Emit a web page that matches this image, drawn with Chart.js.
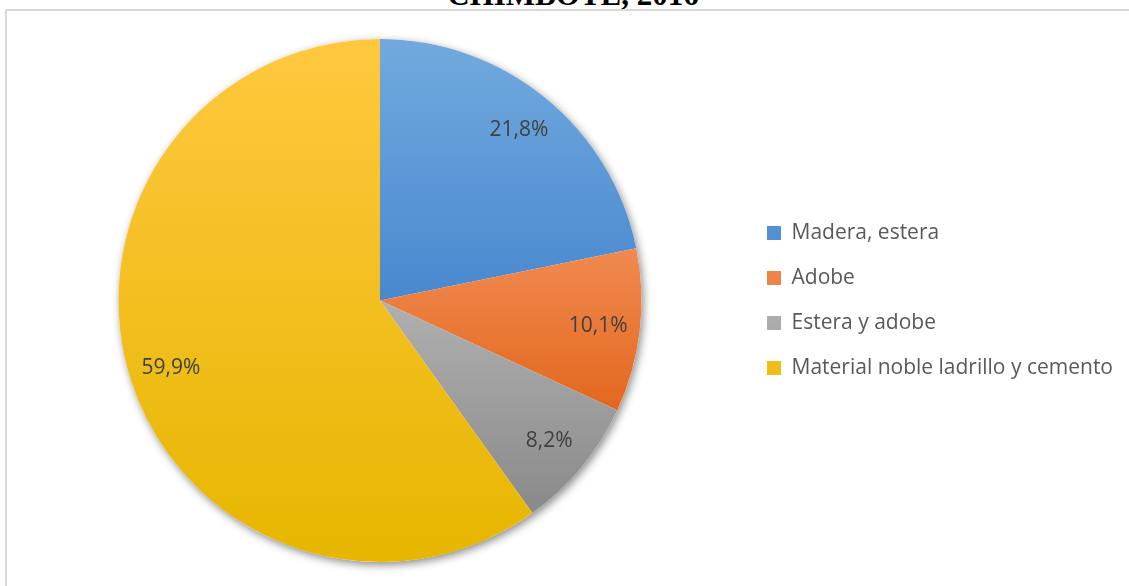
<!DOCTYPE html>
<html lang="es">
<head>
  <meta charset="UTF-8">
  <title>Material de construcción de la vivienda</title>
  <script src="https://cdn.jsdelivr.net/npm/chart.js"></script>
  <style>
    body {
      margin: 0;
      width: 1129px;
      height: 586px;
      overflow: hidden;
      background: #ffffff;
      position: relative;
    }
    .titulo {
      position: absolute;
      left: 0;
      width: 1146px;
      top: -21px;
      text-align: center;
      font-family: "Liberation Serif", "Times New Roman", serif;
      font-weight: bold;
      font-size: 31px;
      line-height: 31px;
      color: #000000;
    }
    .marco {
      position: absolute;
      left: 5px;
      top: 9px;
      width: 2000px;
      height: 2000px;
      border: 2px solid #d9d9d9;
    }
    canvas {
      position: absolute;
      left: 0;
      top: 0;
    }
  </style>
</head>
<body>
  <div class="titulo">CHIMBOTE, 2016</div>
  <div class="marco"></div>
  <canvas id="graficoVivienda" width="1129" height="586"></canvas>

  <script>
    // Material predominante de la vivienda (%)
    const categorias = ["Madera, estera", "Adobe", "Estera y adobe", "Material noble ladrillo y cemento"];
    const porcentajes = [21.8, 10.1, 8.2, 59.9];

    // gradient stops per slice (fraction of pie height, colour)
    const degradados = [
      [[0, "#72aade"], [0.5, "#4888cf"]],
      [[0.4, "#f08a50"], [0.72, "#e3661c"]],
      [[0.5, "#b0b0b0"], [0.9, "#8a8a8a"]],
      [[0, "#ffc83f"], [1, "#e6b600"]]
    ];

    function colorSector(ctx) {
      const chart = ctx.chart;
      const area = chart.chartArea;
      const stops = degradados[ctx.dataIndex];
      if (!area) return stops[0][1];
      const g = chart.ctx.createLinearGradient(0, area.top, 0, area.bottom);
      stops.forEach(s => g.addColorStop(s[0], s[1]));
      return g;
    }

    // soft shadow behind the whole pie
    const sombraPie = {
      id: "sombraPie",
      beforeDatasetsDraw(chart) {
        const arc = chart.getDatasetMeta(0).data[0];
        if (!arc) return;
        const ctx = chart.ctx;
        ctx.save();
        ctx.shadowColor = "rgba(0, 0, 0, 0.45)";
        ctx.shadowBlur = 8;
        ctx.shadowOffsetX = 2;
        ctx.shadowOffsetY = 3;
        ctx.fillStyle = "#ffffff";
        ctx.beginPath();
        ctx.arc(arc.x, arc.y, arc.outerRadius, 0, Math.PI * 2);
        ctx.fill();
        ctx.restore();
      }
    };

    // percentage labels inside each slice
    const etiquetas = {
      id: "etiquetas",
      afterDatasetsDraw(chart) {
        const ctx = chart.ctx;
        const valores = chart.data.datasets[0].data;
        ctx.save();
        ctx.font = "21px 'Open Sans', sans-serif";
        ctx.fillStyle = "#404040";
        ctx.textAlign = "center";
        ctx.textBaseline = "middle";
        chart.getDatasetMeta(0).data.forEach((arc, i) => {
          const ang = (arc.startAngle + arc.endAngle) / 2;
          const r = arc.outerRadius * 0.84;
          const texto = valores[i].toFixed(1).replace(".", ",") + "%";
          ctx.fillText(texto, arc.x + Math.cos(ang) * r, arc.y + Math.sin(ang) * r);
        });
        ctx.restore();
      }
    };

    new Chart(document.getElementById("graficoVivienda"), {
      type: "pie",
      data: {
        labels: categorias,
        datasets: [{
          data: porcentajes,
          backgroundColor: colorSector,
          borderWidth: 0
        }]
      },
      options: {
        responsive: false,
        animation: false,
        layout: {
          padding: { top: 39, bottom: 24, left: 17, right: 6 }
        },
        plugins: {
          tooltip: { enabled: false },
          legend: {
            position: "right",
            labels: {
              boxWidth: 14,
              boxHeight: 14,
              padding: 24,
              color: "#595959",
              font: { family: "'Open Sans', sans-serif", size: 21 }
            }
          }
        }
      },
      plugins: [sombraPie, etiquetas]
    });
  </script>
</body>
</html>
